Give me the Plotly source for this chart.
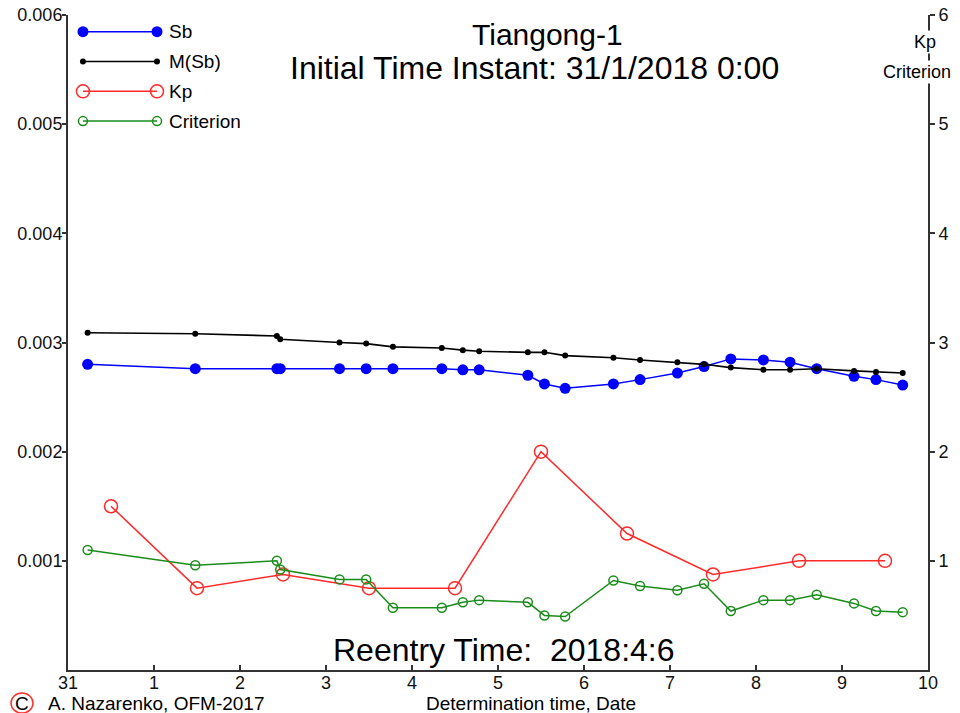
import plotly.graph_objects as go

# ---------------- data ----------------
det_x = [0.228, 1.480, 2.429, 2.468, 3.157, 3.467, 3.778, 4.347, 4.591, 4.781,
         5.347, 5.540, 5.781, 6.342, 6.652, 7.086, 7.396, 7.707, 8.086, 8.396,
         8.706, 9.140, 9.395, 9.706]
sb = [2.80e-3, 2.76e-3, 2.76e-3, 2.76e-3, 2.76e-3, 2.76e-3, 2.76e-3, 2.76e-3, 2.75e-3, 2.75e-3,
      2.70e-3, 2.62e-3, 2.58e-3, 2.62e-3, 2.66e-3, 2.72e-3, 2.78e-3, 2.85e-3, 2.84e-3, 2.82e-3,
      2.76e-3, 2.69e-3, 2.66e-3, 2.61e-3]
msb = [3.09e-3, 3.08e-3, 3.06e-3, 3.03e-3, 3.00e-3, 2.99e-3, 2.96e-3, 2.95e-3, 2.93e-3, 2.92e-3,
       2.91e-3, 2.91e-3, 2.88e-3, 2.86e-3, 2.84e-3, 2.82e-3, 2.80e-3, 2.77e-3, 2.75e-3, 2.75e-3,
       2.76e-3, 2.74e-3, 2.73e-3, 2.72e-3]
criterion = [1.10, 0.96, 1.00, 0.92, 0.83, 0.83, 0.57, 0.57, 0.62, 0.64,
             0.62, 0.50, 0.49, 0.82, 0.77, 0.73, 0.79, 0.54, 0.64, 0.64,
             0.69, 0.61, 0.54, 0.53]
kp_x = [0.5, 1.5, 2.5, 3.5, 4.5, 5.5, 6.5, 7.5, 8.5, 9.5]
kp = [1.5, 0.75, 0.875, 0.75, 0.75, 2.0, 1.25, 0.875, 1.0, 1.0]

x_tickvals = [0, 1, 2, 3, 4, 5, 6, 7, 8, 9, 10]
x_ticktext = ["31", "1", "2", "3", "4", "5", "6", "7", "8", "9", "10"]
yl_tickvals = [0.001, 0.002, 0.003, 0.004, 0.005, 0.006]
yl_ticktext = ["0.001", "0.002", "0.003", "0.004", "0.005", "0.006"]
yr_tickvals = [1, 2, 3, 4, 5, 6]

# ---------------- style ----------------
FONT = "Liberation Sans, Arial, sans-serif"
C_SB = "#0000ff"
C_MSB = "#000000"
C_KP = "#ff2a2a"
C_CR = "#1a8c1a"
AX = "#333333"

series = [
    dict(name="Sb", x=det_x, y=sb, axis="y", color=C_SB,
         marker=dict(symbol="circle", size=11, color=C_SB), lw=1.5),
    dict(name="M(Sb)", x=det_x, y=msb, axis="y", color=C_MSB,
         marker=dict(symbol="circle", size=6, color=C_MSB), lw=1.6),
    dict(name="Kp", x=kp_x, y=kp, axis="y2", color=C_KP,
         marker=dict(symbol="circle-open", size=13, color=C_KP, line=dict(width=1.5)), lw=1.5),
    dict(name="Criterion", x=det_x, y=criterion, axis="y2", color=C_CR,
         marker=dict(symbol="circle-open", size=9, color=C_CR, line=dict(width=1.5)), lw=1.5),
]

fig = go.Figure()
for s in series:
    fig.add_trace(go.Scatter(
        x=s["x"], y=s["y"], yaxis=s["axis"], mode="lines+markers", name=s["name"],
        line=dict(color=s["color"], width=s["lw"]), marker=s["marker"],
        showlegend=False, cliponaxis=False))

# custom legend (line with a marker at both ends), on a hidden overlay axis pair
leg_x0, leg_x1, leg_text_x = 0.0174, 0.1035, 0.1150
leg_top, leg_step = 0.9745, 0.0455
annotations = []
for i, s in enumerate(series):
    ry = leg_top - i * leg_step
    fig.add_trace(go.Scatter(
        x=[leg_x0, leg_x1], y=[ry, ry], xaxis="x2", yaxis="y5", mode="lines+markers",
        line=dict(color=s["color"], width=s["lw"]), marker=s["marker"],
        showlegend=False, hoverinfo="skip", cliponaxis=False))
    annotations.append(dict(x=leg_text_x, y=ry, xref="paper", yref="paper", text=s["name"],
                            showarrow=False, xanchor="left", yanchor="middle",
                            font=dict(family=FONT, size=19, color="#000")))

# titles and texts
annotations += [
    dict(x=0.5581, y=0.9695, xref="paper", yref="paper", text="Tiangong-1", showarrow=False,
         xanchor="center", yanchor="middle", font=dict(family=FONT, size=30, color="#000")),
    dict(x=0.5419, y=0.919, xref="paper", yref="paper", text="Initial Time Instant: 31/1/2018 0:00",
         showarrow=False, xanchor="center", yanchor="middle",
         font=dict(family=FONT, size=32, color="#000")),
    dict(x=0.507, y=0.0305, xref="paper", yref="paper", text="Reentry Time:&nbsp; 2018:4:6",
         showarrow=False, xanchor="center", yanchor="middle",
         font=dict(family=FONT, size=32, color="#000")),
    dict(x=0.5384, y=-0.0504, xref="paper", yref="paper", text="Determination time, Date",
         showarrow=False, xanchor="center", yanchor="middle",
         font=dict(family=FONT, size=19, color="#000")),
    dict(x=-0.0256, y=-0.0504, xref="paper", yref="paper", text="A. Nazarenko, OFM-2017",
         showarrow=False, xanchor="left", yanchor="middle",
         font=dict(family=FONT, size=19, color="#000")),
    dict(x=-0.0535, y=-0.0504, xref="paper", yref="paper", text="C",
         showarrow=False, xanchor="center", yanchor="middle",
         font=dict(family=FONT, size=19, color="#000")),
    dict(x=0.997, y=0.959, xref="paper", yref="paper", text="Kp", showarrow=False,
         xanchor="center", yanchor="middle", bgcolor="white", borderpad=1,
         font=dict(family=FONT, size=18, color="#000")),
    dict(x=0.9876, y=0.913, xref="paper", yref="paper", text="Criterion", showarrow=False,
         xanchor="center", yanchor="middle", bgcolor="white", borderpad=1,
         font=dict(family=FONT, size=18, color="#000")),
]

shapes = [
    dict(type="circle", xref="paper", yref="paper", xsizemode="pixel", ysizemode="pixel",
         xanchor=-0.0535, yanchor=-0.0504, x0=-11, x1=11, y0=-10, y1=10,
         line=dict(color="#ff3030", width=1.5)),
]

# the page places the figure 8px from the top-left corner; size and margins compensate
tickfont = dict(family=FONT, size=18, color="#111")
fig.update_layout(
    width=952, height=705,
    margin=dict(l=60, r=32, t=7, b=43, autoexpand=False),
    paper_bgcolor="white", plot_bgcolor="white",
    showlegend=False,
    xaxis=dict(range=[0, 10], tickvals=x_tickvals, ticktext=x_ticktext, ticks="inside",
               ticklen=5, tickwidth=1.5, tickcolor=AX, showline=True, linecolor=AX, linewidth=2,
               showgrid=False, zeroline=False, tickfont=tickfont, mirror=False, automargin=False,
               ticklabelstandoff=-5, ticklabeloverflow="allow"),
    yaxis=dict(range=[0, 0.006], tickvals=yl_tickvals, ticktext=yl_ticktext, ticks="outside",
               ticklen=4, tickwidth=1.5, tickcolor=AX, showline=True, linecolor=AX, linewidth=2,
               showgrid=False, zeroline=False, tickfont=tickfont, automargin=False,
               ticklabelstandoff=-4, ticklabeloverflow="allow"),
    yaxis2=dict(range=[0, 6], tickvals=yr_tickvals, ticks="outside", ticklen=5, tickwidth=1.5,
                tickcolor=AX, showline=True, linecolor=AX, linewidth=2, side="right",
                overlaying="y", anchor="x", showgrid=False, zeroline=False, tickfont=tickfont,
                automargin=False, ticklabeloverflow="allow"),
    yaxis3=dict(range=[0, 0.006], tickvals=yl_tickvals, ticks="inside", ticklen=4, tickwidth=1.5,
                tickcolor=AX, showticklabels=False, showline=False, side="left", overlaying="y",
                anchor="x", showgrid=False, zeroline=False, automargin=False),
    yaxis4=dict(range=[0, 6], tickvals=yr_tickvals, ticks="inside", ticklen=5, tickwidth=1.5,
                tickcolor=AX, showticklabels=False, showline=False, side="right", overlaying="y",
                anchor="x", showgrid=False, zeroline=False, automargin=False),
    xaxis2=dict(range=[0, 1], overlaying="x", visible=False, anchor="y5", automargin=False),
    yaxis5=dict(range=[0, 1], overlaying="y", visible=False, anchor="x2", automargin=False),
    annotations=annotations,
    shapes=shapes,
)

fig.write_html("out.html")
